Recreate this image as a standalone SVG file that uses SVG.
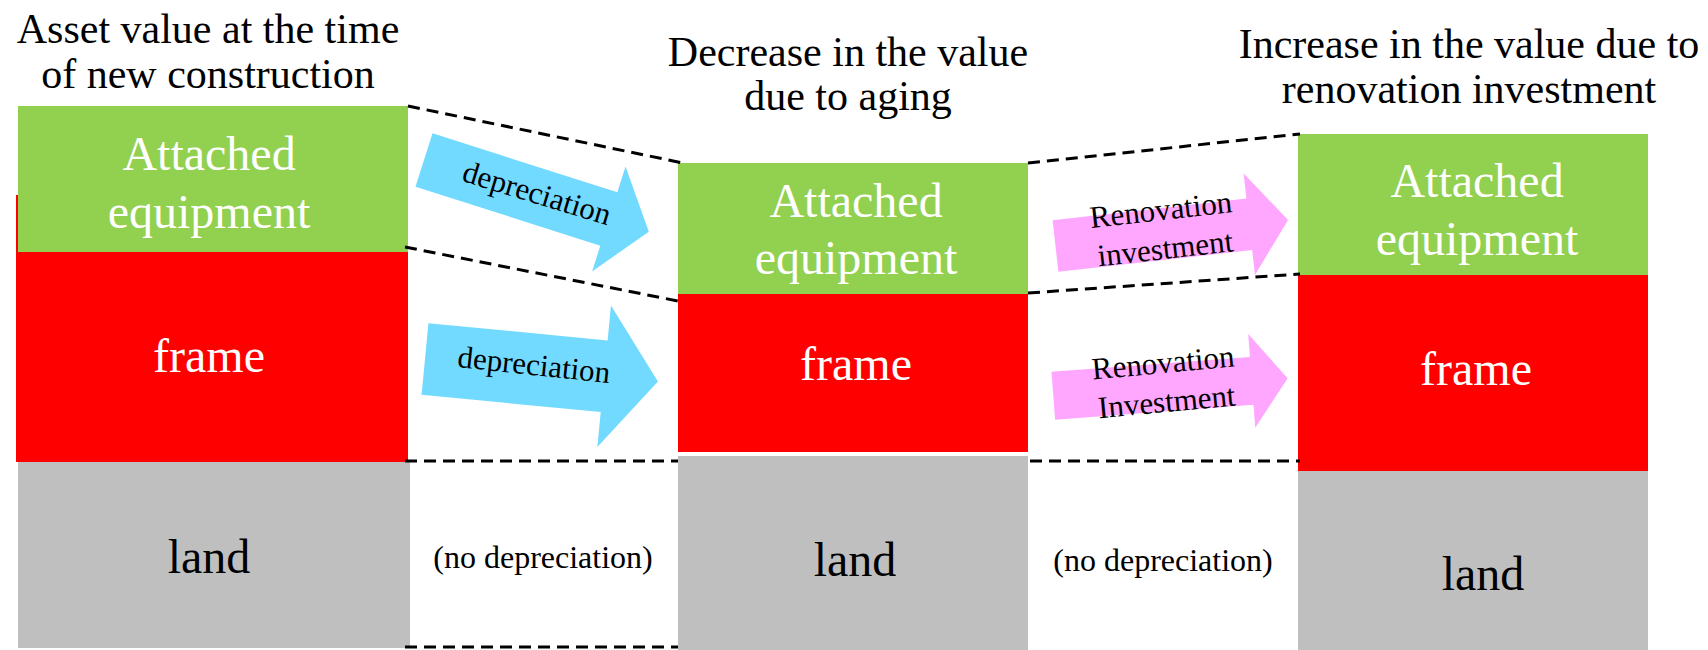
<svg xmlns="http://www.w3.org/2000/svg" width="1708" height="650" viewBox="0 0 1708 650">
<style>
text{font-family:"Liberation Serif","Times New Roman",serif;}
.title{font-size:42px;fill:#000;text-anchor:middle;}
.box{font-size:48px;text-anchor:middle;}
.w{fill:#fff;}
.k{fill:#000;}
.green{fill:#92D050;}
.red{fill:#FF0000;}
.gray{fill:#BFBFBF;}
.blue{fill:#73DAFF;}
.pink{fill:#FFA6FF;}
.lbl{font-size:31px;fill:#000;text-anchor:middle;}
.nd{font-size:32px;fill:#000;text-anchor:middle;}
.dash{stroke:#000;stroke-width:3;stroke-dasharray:12 7;fill:none;}
</style>
<rect width="1708" height="650" fill="#fff"/>

<g id="title1"><text class="title" x="208" y="43">Asset value at the time</text><text class="title" x="208" y="88">of new construction</text></g>
<g id="title2"><text class="title" x="848" y="66">Decrease in the value</text><text class="title" x="848" y="110">due to aging</text></g>
<g id="title3"><text class="title" x="1469" y="58">Increase in the value due to</text><text class="title" x="1469" y="103">renovation investment</text></g>

<g id="frame1"><rect class="red" x="16" y="195" width="392" height="267"/><text class="box w" x="209" y="372">frame</text></g>
<g id="equip1"><rect class="green" x="18" y="106" width="390" height="146"/><text class="box w" x="209" y="170">Attached</text><text class="box w" x="209" y="228">equipment</text></g>
<g id="land1"><rect class="gray" x="18" y="462" width="392" height="186"/><text class="box k" x="209" y="573">land</text></g>

<g id="equip2"><rect class="green" x="678" y="163" width="350" height="131"/><text class="box w" x="856" y="217">Attached</text><text class="box w" x="856" y="274">equipment</text></g>
<g id="frame2"><rect class="red" x="678" y="294" width="350" height="158"/><text class="box w" x="856" y="380">frame</text></g>
<g id="land2"><rect class="gray" x="678" y="456" width="350" height="194"/><text class="box k" x="855" y="576">land</text></g>

<g id="equip3"><rect class="green" x="1298" y="134" width="350" height="141"/><text class="box w" x="1477" y="197">Attached</text><text class="box w" x="1477" y="255">equipment</text></g>
<g id="frame3"><rect class="red" x="1298" y="275" width="350" height="196"/><text class="box w" x="1476" y="385">frame</text></g>
<g id="land3"><rect class="gray" x="1298" y="471" width="350" height="179"/><text class="box k" x="1483" y="590">land</text></g>

<g id="connectors">
<line class="dash" x1="408" y1="106" x2="683" y2="163"/>
<line class="dash" x1="405" y1="247" x2="683" y2="302"/>
<line class="dash" x1="405" y1="461" x2="678" y2="461"/>
<line class="dash" x1="405" y1="647" x2="678" y2="647"/>
<line class="dash" x1="1028" y1="163" x2="1300" y2="134"/>
<line class="dash" x1="1028" y1="293" x2="1300" y2="274"/>
<line class="dash" x1="1030" y1="461" x2="1300" y2="461"/>
</g>

<g id="arrow-dep1">
<path class="blue" transform="translate(424,160) rotate(17.7)" d="M0,-28 L194,-28 L194,-55 L236,0 L194,55 L194,28 L0,28 Z"/>
<text class="lbl" transform="translate(534,203) rotate(17)" x="0" y="0">depreciation</text>
</g>
<g id="arrow-dep2">
<path class="blue" transform="translate(425,359) rotate(5.5)" d="M0,-36 L180,-36 L180,-71 L234,0 L180,71 L180,36 L0,36 Z"/>
<text class="lbl" transform="translate(533,375) rotate(6)" x="0" y="0">depreciation</text>
</g>
<g id="arrow-ren1">
<path class="pink" transform="translate(1055.5,246) rotate(-6.4)" d="M0,-26 L195,-26 L195,-51 L234,0 L195,51 L195,26 L0,26 Z"/>
<g transform="translate(1162,220) rotate(-6.4)"><text class="lbl" x="0" y="0">Renovation</text><text class="lbl" x="0" y="39">investment</text></g>
</g>
<g id="arrow-ren2">
<path class="pink" transform="translate(1053.3,395.8) rotate(-4.3)" d="M0,-24 L199,-24 L199,-47 L235,0 L199,47 L199,24 L0,24 Z"/>
<g transform="translate(1164,373) rotate(-5.3)"><text class="lbl" x="0" y="0">Renovation</text><text class="lbl" x="0" y="39">Investment</text></g>
</g>

<g id="nodep1"><text class="nd" x="543" y="568">(no depreciation)</text></g>
<g id="nodep2"><text class="nd" x="1163" y="571">(no depreciation)</text></g>
</svg>
